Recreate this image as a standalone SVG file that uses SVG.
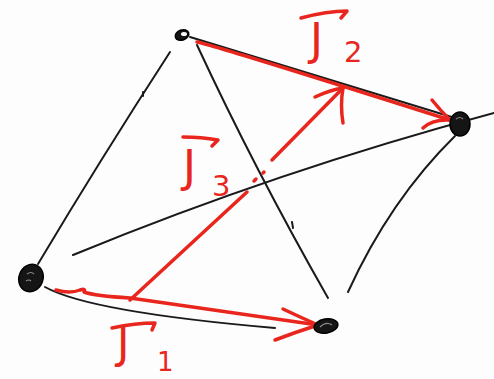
<svg xmlns="http://www.w3.org/2000/svg" width="494" height="379" viewBox="0 0 494 379">
<style>
.blk{fill:none;stroke:#1a1a1a;stroke-width:2;stroke-linecap:round}
.red{fill:none;stroke:#e8261e;stroke-width:3.5;stroke-linecap:round;stroke-linejoin:round}
.node{fill:#151515;stroke:#000;stroke-width:1.5}
.hl{fill:none;stroke:#8a8a8a;stroke-width:1.2}
.lbl{fill:#e8261e;font-family:"DejaVu Sans","Liberation Sans",sans-serif}
</style>
<rect width="494" height="379" fill="#fdfdfd"/>
<g id="connectors">
<path class="blk" d="M38,264 Q100,160 170,52"/>
<path class="blk" d="M143,92 l0,4"/>
<path class="blk" d="M197,45 Q255,170 328,298"/>
<path class="blk" d="M292,222 l1,6"/>
<path class="blk" d="M190,37 L455,118"/>
<path class="blk" d="M73,255 Q280,170 494,113"/>
<path class="blk" d="M455,136 Q390,200 348,292"/>
<path class="blk" d="M45,287 Q90,312 275,328"/>
<path class="red" d="M56,290 Q70,294 80,290 Q86,288 84,292 Q95,296 130,298 L318,325"/>
<path class="red" d="M283,309 Q302,318 318,325 Q296,332 275,340"/>
<path class="red" d="M197,42 Q210,44 450,120"/>
<path class="red" d="M432,100 Q440,110 450,120 Q432,119 423,128"/>
<path class="red" d="M130,300 L247,192"/>
<path class="red" d="M254,181 l2,-2 M263,173 l1,-1"/>
<path class="red" d="M272,160 L343,88"/>
<path class="red" d="M315,97 Q330,90 343,88 Q340,105 343,123"/>
</g>
<g id="node-A"><ellipse class="node" cx="31" cy="278" rx="12" ry="14" transform="rotate(20 31 278)"/><path class="hl" d="M27,274 q4,-3 7,0 M26,281 q3,-2 5,0"/></g>
<g id="node-B"><ellipse class="node" cx="182" cy="35" rx="7" ry="5" transform="rotate(-20 182 35)"/><ellipse cx="184" cy="34" rx="3" ry="2" fill="#fff"/></g>
<g id="node-C"><ellipse class="node" cx="460" cy="124" rx="10" ry="12"/><path class="hl" d="M456,119 q4,-3 7,0"/></g>
<g id="node-D"><ellipse class="node" cx="326" cy="326" rx="12" ry="7" transform="rotate(-10 326 326)"/><path class="hl" d="M320,327 q6,-6 12,-2"/></g>
<g id="label-J2-top">
<path class="red" d="M301,18 C316,14 332,11 347,11 L341,18"/>
<text class="lbl" x="310" y="55" font-size="44">J</text>
<text class="lbl" x="344" y="62" font-size="29">2</text>
</g>
<g id="label-J3">
<path class="red" d="M183,137 C195,137 207,138 218,140 L212,146"/>
<text class="lbl" x="183" y="182" font-size="44">J</text>
<text class="lbl" x="212" y="196" font-size="29">3</text>
</g>
<g id="label-J1">
<path class="red" d="M112,328 C126,325 140,323 155,323 L152,330"/>
<text class="lbl" x="117" y="358" font-size="42">J</text>
<text class="lbl" x="157" y="371" font-size="26">1</text>
</g>
</svg>
